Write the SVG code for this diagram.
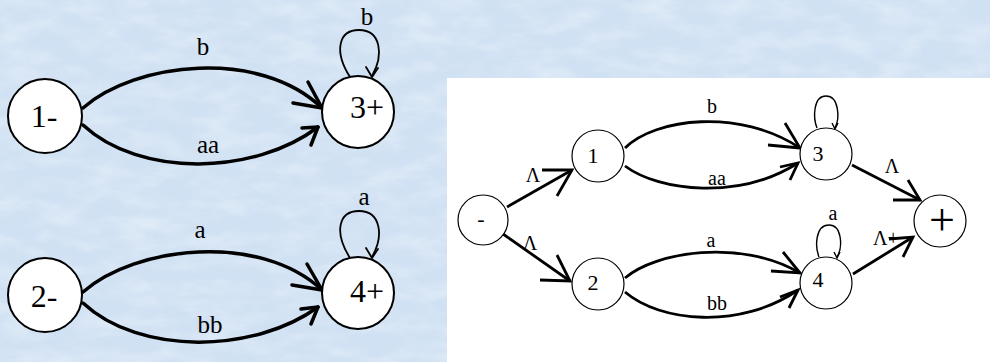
<svg xmlns="http://www.w3.org/2000/svg" width="990" height="362" viewBox="0 0 990 362">
<defs>
<filter id="tex" x="0" y="0" width="100%" height="100%">
<feTurbulence type="fractalNoise" baseFrequency="0.025 0.06" numOctaves="4" seed="7"/>
<feColorMatrix type="matrix" values="0 0 0 0 1  0 0 0 0 1  0 0 0 0 1  1.6 0 0 0 -0.6"/>
</filter>
</defs>
<style>
.ln{fill:#fff;stroke:#000;stroke-width:2}
.le{fill:none;stroke:#000;stroke-width:3.5;stroke-linecap:round;stroke-linejoin:round}
.ll{fill:none;stroke:#000;stroke-width:1.8;stroke-linecap:round}
.t{font-family:"Liberation Serif","Times New Roman",serif;fill:#000;text-anchor:middle}
.lt{font-size:32px}
.lb{font-size:25px}
.rn{fill:#fff;stroke:#000;stroke-width:1.2}
.re{fill:none;stroke:#000;stroke-width:2.8;stroke-linejoin:miter}
.rl{fill:none;stroke:#000;stroke-width:1.4}
.rt{font-size:22px}
.rb{font-size:20px}
</style>
<rect width="990" height="362" fill="#d0e1f3"/>
<rect width="990" height="362" filter="url(#tex)" opacity="0.4"/>
<rect x="447" y="78" width="543" height="284" fill="#fff"/>

<g id="connectors">
<path class="le" d="M83,108 C135,62 260,48 322,108"/>
<path class="le" d="M308,82 L322,108 L293,103"/>
<path class="le" d="M83,125 C140,178 255,175 318,127"/>
<path class="le" d="M302,128 L318,127 L311,145"/>
<path class="le" d="M83,292 C135,246 260,232 322,290"/>
<path class="le" d="M307,264 L322,290 L292,285"/>
<path class="le" d="M83,303 C140,356 255,353 318,307"/>
<path class="le" d="M301,309 L318,307 L311,324"/>
<path class="ll" d="M350,77 C334,52 338,30 359,30 C381,30 384,55 372,76"/>
<path class="ll" d="M366,67 L372,77 L378,68"/>
<path class="ll" d="M350,258 C334,233 338,211 359,211 C381,211 384,236 372,257"/>
<path class="ll" d="M366,248 L372,258 L378,249"/>
<text class="t lb" x="203" y="55">b</text>
<text class="t lb" x="208" y="153">aa</text>
<text class="t lb" x="200" y="238">a</text>
<text class="t lb" x="210" y="333">bb</text>
<text class="t lb" x="367" y="25">b</text>
<text class="t lb" x="364" y="205">a</text>

<path class="re" d="M507,207 L572,170"/>
<path class="re" d="M542,170 L572,170 L557,196"/>
<path class="re" d="M503,234 L570,281"/>
<path class="re" d="M540,280 L570,281 L557,255"/>
<path class="re" d="M625,148 C655,118 740,108 800,148"/>
<path class="re" d="M785,123 L800,148 L768,145"/>
<path class="re" d="M625,166 C660,192 740,200 798,163"/>
<path class="re" d="M780,167 L798,163 L790,180"/>
<path class="re" d="M625,278 C655,252 740,238 800,273"/>
<path class="re" d="M783,252 L800,273 L771,271"/>
<path class="re" d="M625,292 C660,322 740,330 798,290"/>
<path class="re" d="M780,297 L798,290 L789,308"/>
<path class="re" d="M852,165 L920,200"/>
<path class="re" d="M893,200 L920,200 L908,180"/>
<path class="re" d="M853,274 L913,237"/>
<path class="re" d="M889,239 L913,237 L903,257"/>
<path class="rl" d="M817,128 C813,118 813,96 826,96 C839,96 840,118 835,128"/>
<path class="rl" d="M832,123 L835,129 L838,123"/>
<path class="rl" d="M819,257 C815,247 815,225 829,225 C842,225 843,247 837,257"/>
<path class="rl" d="M834,252 L837,258 L840,252"/>
<text class="t rb" x="712" y="113">b</text>
<text class="t rb" x="717" y="185">aa</text>
<text class="t rb" x="711" y="247">a</text>
<text class="t rb" x="717" y="310">bb</text>
<text class="t rb" x="533" y="182">Λ</text>
<text class="t rb" x="530" y="250">Λ</text>
<text class="t rb" x="892" y="173">Λ</text>
<text class="t rb" x="886" y="245">Λ+</text>
<text class="t rb" x="833" y="220">a</text>
</g>

<g id="n1m"><circle class="ln" cx="45" cy="116" r="37"/><text class="t lt" x="44" y="127">1-</text></g>
<g id="n3p"><circle class="ln" cx="358" cy="112" r="36"/><text class="t lt" x="367" y="118">3+</text></g>
<g id="n2m"><circle class="ln" cx="45" cy="295" r="37"/><text class="t lt" x="44" y="307">2-</text></g>
<g id="n4p"><circle class="ln" cx="358" cy="293" r="36"/><text class="t lt" x="367" y="302">4+</text></g>

<g id="rm"><circle class="rn" cx="483" cy="220" r="25"/><text class="t rt" x="481" y="226">-</text></g>
<g id="r1"><circle class="rn" cx="598" cy="156" r="26"/><text class="t rt" x="593" y="163">1</text></g>
<g id="r2"><circle class="rn" cx="598" cy="284" r="26"/><text class="t rt" x="593" y="290">2</text></g>
<g id="r3"><circle class="rn" cx="826" cy="154" r="26"/><text class="t rt" x="818" y="161">3</text></g>
<g id="r4"><circle class="rn" cx="826" cy="283" r="26"/><text class="t rt" x="818" y="287">4</text></g>
<g id="rp"><circle class="rn" cx="940" cy="221" r="26"/><text class="t" style="font-size:46px" x="942" y="235">+</text></g>
</svg>
